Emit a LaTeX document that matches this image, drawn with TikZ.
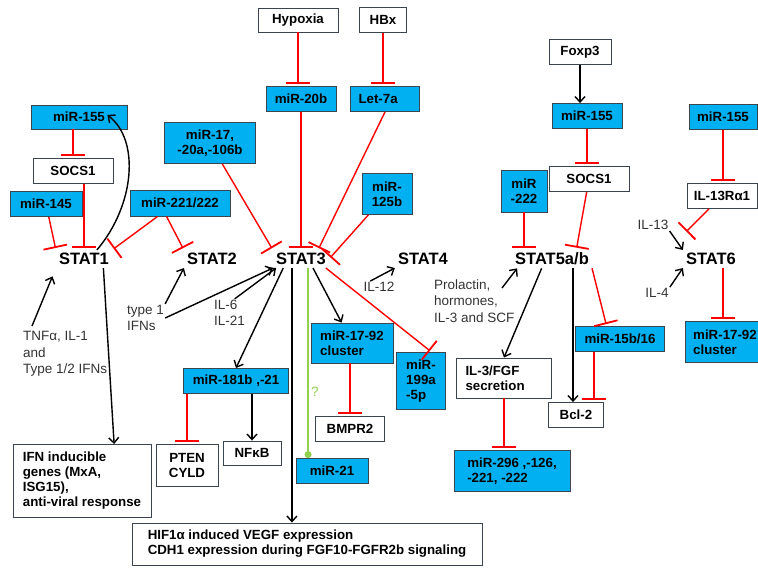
\documentclass[tikz,border=0pt]{standalone}
\usepackage{fontspec}
\setmainfont{Liberation Sans}
\usetikzlibrary{arrows.meta,calc}
\definecolor{mblue}{HTML}{00B0F0}
\definecolor{medge}{HTML}{3A4550}
\definecolor{inhred}{HTML}{FF0000}
\definecolor{qgreen}{HTML}{92D050}
\definecolor{lgray}{HTML}{333333}
\newcommand\boxfont{\fontsize{13.3}{15}\selectfont\bfseries}
\newcommand\statfont{\fontsize{16.5}{18}\selectfont\bfseries}
\newcommand\lblfont{\fontsize{13.5}{16.5}\selectfont}

\begin{document}
\begin{tikzpicture}[x=1pt, y=-1pt,
  mir/.style={draw=medge, fill=mblue, line width=0.9pt, font=\boxfont, align=center, inner sep=2pt},
  gene/.style={mir, fill=white},
  stat/.style={font=\statfont, inner sep=3pt},
  lbl/.style={font=\lblfont, text=lgray, align=left, inner sep=1pt},
  act/.style={-{Straight Barb[length=5.5pt,width=10pt]}, line width=1.4pt},
  inh/.style={-{Bar[width=24pt, line width=1.8pt]}, inhred, line width=1.4pt, shorten >=2pt}]
\useasboundingbox (0,0) rectangle (758,568);

% top boxes
\node[gene, minimum width=80pt, minimum height=24pt] (hyp) at (298,20) {Hypoxia};
\node[gene, minimum width=47pt, minimum height=25pt] (hbx) at (383,20) {HBx};
\node[gene, minimum width=62pt, minimum height=25pt] (foxp) at (580,52) {Foxp3};
\node[mir, minimum width=96pt, minimum height=24pt] (m155a) at (79,117) {miR-155};
\node[mir, minimum width=70pt, minimum height=25pt] (m20b) at (301,99) {miR-20b};
\node[mir, minimum height=25pt, text width=53pt, inner xsep=8pt, align=left] (let7) at (385,99) {Let-7a};
\node[mir, minimum width=70pt, minimum height=25pt] (m155b) at (587,116) {miR-155};
\node[mir, minimum width=68pt, minimum height=25pt] (m155c) at (723,117) {miR-155};
\node[mir, minimum width=91pt, minimum height=41pt] (m17) at (210,143) {miR-17,\\-20a,-106b};
\node[gene, minimum width=80pt, minimum height=25pt] (socsa) at (73,171) {SOCS1};
\node[gene, minimum width=80pt, minimum height=25pt] (socsb) at (589,179) {SOCS1};
\node[mir, minimum width=50pt, minimum height=41pt] (m125) at (387,194) {miR-\\125b};
\node[mir, minimum width=46pt, minimum height=42pt] (m222) at (524,191) {miR\\-222};
\node[gene, minimum width=70pt, minimum height=25pt] (il13r) at (722,196) {IL-13Rα1};
\node[mir, minimum width=72pt, minimum height=25pt] (m145) at (46,204) {miR-145};
\node[mir, minimum width=100pt, minimum height=26pt] (m221) at (180,203) {miR-221/222};

% STATs
\node[stat] (stat1) at (84,259) {STAT1};
\node[stat] (stat2) at (212,259) {STAT2};
\node[stat] (stat3) at (301,259) {STAT3};
\node[stat] (stat4) at (423,259) {STAT4};
\node[stat] (stat5) at (552,259) {STAT5a/b};
\node[stat] (stat6) at (711,259) {STAT6};

% lower boxes
\node[mir, minimum width=82pt, minimum height=40pt, align=left] (m1792a) at (352,343) {miR-17-92\\cluster};
\node[mir, minimum width=49pt, minimum height=57pt, align=left] (m199) at (421,381) {miR-\\199a\\-5p};
\node[gene, minimum height=40pt, text width=77pt, inner xsep=9pt, align=left] (il3) at (504,378) {IL-3/FGF\\secretion};
\node[mir, minimum width=89pt, minimum height=25pt] (m15) at (620,339) {miR-15b/16};
\node[mir, minimum width=80pt, minimum height=41pt, align=left] (m1792b) at (725,342) {miR-17-92\\cluster};
\node[mir, minimum width=105pt, minimum height=25pt] (m181) at (236,381) {miR-181b ,-21};
\node[gene, minimum width=62pt, minimum height=42pt] (ptn) at (187,465) {PTEN\\CYLD};
\node[gene, minimum width=58pt, minimum height=24pt] (nfkb) at (252,453) {NFκB};
\node[gene, minimum width=69pt, minimum height=25pt] (bmpr) at (350,429) {BMPR2};
\node[mir, minimum width=72pt, minimum height=25pt] (m21) at (332,471) {miR-21};
\node[gene, minimum width=55pt, minimum height=25pt] (bcl) at (576,415) {Bcl-2};
\node[mir, minimum width=116pt, minimum height=41pt, align=left] (m296) at (512,471) {miR-296 ,-126,\\-221, -222};
\node[gene, minimum width=138pt, minimum height=73pt, align=left] (ifn) at (82,481) {IFN inducible\\genes (MxA,\\ISG15),\\anti-viral response};
\node[gene, minimum width=350pt, minimum height=42pt, align=left] (hif) at (307,544) {HIF1α induced VEGF expression\\CDH1 expression during FGF10-FGFR2b signaling};

% labels
\node[lbl, anchor=west] (tnf) at (22,354) {TNFα, IL-1\\and\\Type 1/2 IFNs};
\node[lbl, anchor=west] (type1) at (126,318) {type 1\\IFNs};
\node[lbl, anchor=west] (il6) at (213,313) {IL-6\\IL-21};
\node[lbl] (il12) at (379,287) {IL-12};
\node[lbl, anchor=west] (prl) at (433,301) {Prolactin,\\hormones,\\IL-3 and SCF};
\node[lbl] (il13) at (653,225) {IL-13};
\node[lbl] (il4) at (657,293) {IL-4};
\node[lbl, text=qgreen] (qmark) at (315,392) {?};
\coordinate (tnfin) at (32,326);
\coordinate (prlin) at (502,288);

% STAT1
\draw[inh] (m145) -- (stat1.north west);
\draw[inh] (m155a.south -| socsa.north) -- (socsa.north);
\draw[inh] (stat1.north |- socsa.south) -- (stat1.north);
\draw[inh] (m221.-149) -- (stat1.north east);
\draw[act] (stat1.35) .. controls (135,205) and (140,140) .. ($(m155a.east)+(-20,-2)$);
\draw[act, shorten >=9pt] (tnfin) -- (stat1.south west);
\draw[act] (stat1.-25) -- (ifn.49);
% STAT2
\draw[inh] (m221.-135) -- (stat2.north west);
\draw[act] (type1.north east) -- (stat2.south west);
% STAT3
\draw[inh] (hyp.south) -- (hyp.south |- m20b.north);
\draw[inh] (hbx.south) -- (hbx.south |- let7.north);
\draw[inh] (m20b) -- (stat3);
\draw[inh] (let7.south) -- (stat3.28);
\draw[inh] (m17) -- (stat3.north west);
\draw[inh] (m125) -- (stat3.east);
\draw[act] (type1.east) -- (stat3.south west);
\draw[act] (il6.70) -- (stat3.200);
\draw[act] (stat3.-153) -- (m181.north);
\draw[inh] (ptn.north |- m181.south) -- (ptn.north);
\draw[act] (nfkb.north |- m181.south) -- (nfkb.north);
\draw[act] (stat3.-135) -- (stat3.-135 |- hif.north);
\draw[qgreen, line width=1.4pt, -{Circle[length=7pt]}] (stat3.-52) -- (stat3.-52 |- m21.north);
\draw[act] (stat3.-37) -- (m1792a.117);
\draw[inh] (bmpr.north |- m1792a.south) -- (bmpr.north);
\draw[inh] (stat3.-20) -- (m199.70);
% STAT4
\draw[act] (il12.146) -- (stat4.south west);
% STAT5
\draw[act] (foxp.south) -- (foxp.south |- m155b.north);
\draw[inh] (m155b.south) -- (m155b.south |- socsb.north);
\draw[inh] (m222.south) -- (m222.south |- stat5.north);
\draw[inh] (socsb) -- (stat5.21);
\draw[act] (prlin) -- (stat5.-165);
\draw[act] (stat5.-138) -- (il3.north);
\draw[act] (stat5.-24) -- (stat5.-24 |- bcl.north);
\draw[inh] (stat5.-13) -- (m15.136);
\draw[inh] (bcl.36 |- m15.south) -- (bcl.36);
\draw[inh] (il3.south) -- (il3.south |- m296.north);
% STAT6
\draw[inh] (m155c.south) -- (m155c.south |- il13r.north);
\draw[inh] (il13r) -- ($(stat6.north west)+(2,-17)$);
\draw[act] (il13.south east) -- (stat6.north west);
\draw[act] (il4.north east) -- (stat6.south west);
\draw[inh] (stat6.-37) -- (stat6.-37 |- m1792b.north);
\end{tikzpicture}
\end{document}
